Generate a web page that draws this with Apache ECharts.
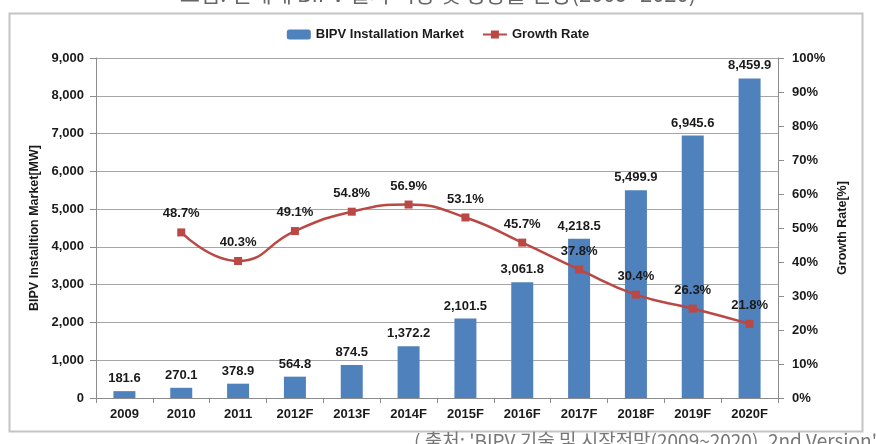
<!DOCTYPE html>
<html>
<head>
<meta charset="utf-8">
<script src="https://cdn.jsdelivr.net/npm/echarts@6/dist/echarts.min.js"></script>
<style>
html,body{margin:0;padding:0;background:#fff;}
#c{width:876px;height:444px;}
</style>
</head>
<body>
<div id="c"></div>
<script>
const categories = ['2009','2010','2011','2012F','2013F','2014F','2015F','2016F','2017F','2018F','2019F','2020F'];
const marketMW = [181.6, 270.1, 378.9, 564.8, 874.5, 1372.2, 2101.5, 3061.8, 4218.5, 5499.9, 6945.6, 8459.9];
const growthPct = [null, 48.7, 40.3, 49.1, 54.8, 56.9, 53.1, 45.7, 37.8, 30.4, 26.3, 21.8];
const leftTicks = {min: 0, max: 9000, interval: 1000};
const rightTicks = {min: 0, max: 100, interval: 10};

const FONT = '"Liberation Sans", Arial, sans-serif';
const chart = echarts.init(document.getElementById('c'), null, {renderer: 'canvas'});
const lblStyle = {fontFamily: FONT, fontWeight: 'bold', fontSize: 13, color: '#1a1a1a'};

chart.setOption({
  animation: false,
  backgroundColor: '#fff',
  textStyle: {fontFamily: FONT},
  graphic: [
    {type: 'rect', shape: {x: 9.5, y: 13.5, width: 853, height: 418}, style: {fill: 'none', stroke: '#c4c4c4', lineWidth: 2}, z: -1},
    {type: 'text', left: 'center', top: -17, style: {text: '그림. 전세계 BIPV 설치 시장 및 성장률 전망(2009~2020)', font: '22px "Noto Sans CJK KR"', fill: '#666'}},
    {type: 'text', left: 414, top: 431, style: {text: "( 출처: 'BIPV 기술 및 시장전망(2009~2020), 2nd Version' )", font: '19px "Noto Sans CJK KR"', fill: '#777'}}
  ],
  legend: {
    top: 23, left: 'center', itemGap: 18, itemWidth: 24, itemHeight: 10,
    textStyle: {fontFamily: FONT, fontWeight: 'bold', fontSize: 13, color: '#1a1a1a'},
    data: ['BIPV Installation Market', 'Growth Rate']
  },
  grid: {left: 96, right: 98, top: 58, bottom: 46, containLabel: false},
  xAxis: {
    type: 'category', data: categories,
    axisLine: {lineStyle: {color: '#8c8c8c'}},
    axisTick: {show: true, length: 5, lineStyle: {color: '#8c8c8c'}},
    axisLabel: {margin: 10, ...lblStyle}
  },
  yAxis: [
    {
      type: 'value', min: leftTicks.min, max: leftTicks.max, interval: leftTicks.interval,
      name: 'BIPV Installtion Market[MW]', nameLocation: 'middle', nameGap: 52, nameRotate: 90,
      nameTextStyle: {fontFamily: FONT, fontWeight: 'bold', fontSize: 12.5, color: '#1a1a1a'},
      axisLine: {show: true, lineStyle: {color: '#8c8c8c'}},
      axisTick: {show: true, length: 6, lineStyle: {color: '#8c8c8c'}},
      splitLine: {lineStyle: {color: '#a6a6a6'}},
      axisLabel: {margin: 12, ...lblStyle, formatter: v => v.toLocaleString('en-US')}
    },
    {
      type: 'value', min: rightTicks.min, max: rightTicks.max, interval: rightTicks.interval,
      name: 'Growth Rate[%]', nameLocation: 'middle', nameGap: 56, nameRotate: 90,
      nameTextStyle: {fontFamily: FONT, fontWeight: 'bold', fontSize: 12.5, color: '#1a1a1a'},
      axisLine: {show: true, lineStyle: {color: '#8c8c8c'}},
      axisTick: {show: true, length: 6, lineStyle: {color: '#8c8c8c'}},
      splitLine: {show: false},
      axisLabel: {margin: 14, ...lblStyle, formatter: '{value}%'}
    }
  ],
  series: [
    {
      name: 'BIPV Installation Market', type: 'bar', data: marketMW, yAxisIndex: 0,
      barWidth: 22,
      itemStyle: {color: '#4F81BD'},
      label: {show: true, position: 'top', distance: 6, ...lblStyle,
        formatter: p => p.value.toLocaleString('en-US', {minimumFractionDigits: 1, maximumFractionDigits: 1})}
    },
    {
      name: 'Growth Rate', type: 'line', data: growthPct, yAxisIndex: 1,
      smooth: 0.5, symbol: 'rect', symbolSize: 8,
      lineStyle: {color: '#BA4845', width: 2.5},
      itemStyle: {color: '#BA4845'},
      label: {show: true, position: 'top', distance: 8, ...lblStyle,
        formatter: p => p.value.toFixed(1) + '%'},
      z: 5
    }
  ]
});
</script>
</body>
</html>
